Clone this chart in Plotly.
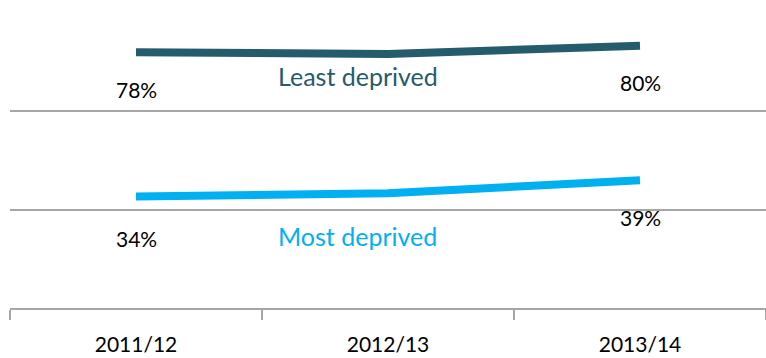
import plotly.graph_objects as go

years = ["2011/12", "2012/13", "2013/14"]
least = [78, 77.5, 80]
most = [34, 35, 39]
least_labels = ["78%", "", "80%"]
most_labels = ["34%", "", "39%"]

c_least = "#245C6B"
c_most = "#00B0F0"
font = "Lato"

fig = go.Figure()
fig.add_trace(go.Scatter(x=years, y=least, mode="lines", line=dict(color=c_least, width=8),
                         name="Least deprived", hoverinfo="skip"))
fig.add_trace(go.Scatter(x=years, y=most, mode="lines", line=dict(color=c_most, width=8),
                         name="Most deprived", hoverinfo="skip"))

ann = []
for x, y, t in zip(years, least, least_labels):
    if t:
        ann.append(dict(x=x, y=y, text=t, showarrow=False, yshift=-37,
                        font=dict(size=21, color="black", family=font)))
for x, y, t in zip(years, most, most_labels):
    if t:
        ann.append(dict(x=x, y=y, text=t, showarrow=False, yshift=-42 if t == "34%" else -37,
                        font=dict(size=21, color="black", family=font)))
ann.append(dict(x=0.88, y=least[1], text="Least deprived", showarrow=False, yshift=-22,
                font=dict(size=25, color=c_least, family=font)))
ann.append(dict(x=0.88, y=most[1], text="Most deprived", showarrow=False, yshift=-43,
                font=dict(size=25, color=c_most, family=font)))

fig.update_layout(
    width=766, height=358,
    margin=dict(l=10, r=0, t=13, b=50),
    paper_bgcolor="white", plot_bgcolor="white",
    showlegend=False,
    annotations=ann,
    font=dict(family=font, color="black"),
    xaxis=dict(range=[-0.5, 2.5], showgrid=False, showline=True, linecolor="#A6A6A6", linewidth=2,
               ticks="outside", tickson="boundaries", ticklen=10, tickcolor="#A6A6A6", tickwidth=2,
               tickfont=dict(size=21, color="black", family=font), ticklabelstandoff=17,
               zeroline=False, fixedrange=True),
    yaxis=dict(range=[0, 90], dtick=30, showgrid=True, gridcolor="#A6A6A6", gridwidth=2,
               showticklabels=False, zeroline=False, showline=False, fixedrange=True),
)

fig.write_html("out.html")
